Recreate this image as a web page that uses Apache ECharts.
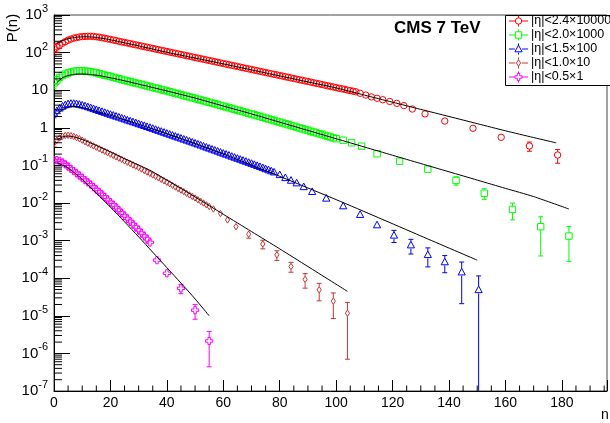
<!DOCTYPE html>
<html>
<head>
<meta charset="utf-8">
<script src="https://cdn.jsdelivr.net/npm/echarts@6/dist/echarts.min.js"></script>
<style>
html, body { margin: 0; padding: 0; background: #fff; }
#chart { width: 610px; height: 423px; }
</style>
</head>
<body>
<div id="chart"></div>
<script>
// Charged-particle multiplicity distributions P(n), CMS 7 TeV.
// Each |eta| window is plotted scaled by the factor given in its legend entry.

// ---- |eta| < 2.4  (x 10000) ----
const eta24Dense = [ // n = 0, 1, 2, ...
  126,141,158,178,195,214,229,243,251,260,
  266,269,272,272,269,263,257,248,240,232,
  224,216,208,200,193,186,179.5,173,167,161,
  155,149,144,139,134,129,124,120,115,111,
  107,103,99.5,96.0,92.5,89.1,85.9,82.8,79.8,76.9,
  74.1,71.4,68.9,66.4,64.0,61.7,59.4,57.3,55.2,53.2,
  51.3,49.4,47.6,45.9,44.3,42.7,41.1,39.6,38.2,36.8,
  35.5,34.2,33.0,31.8,30.6,29.5,28.4,27.4,26.4,25.5,
  24.5,23.7,22.8,22.0,21.2,20.4,19.7,19.0,18.3,17.6,
  17.0,16.4,15.8,15.2,14.7,14.1,13.6,13.1,12.6,12.2,
  11.7,11.3,10.9,10.5,10.1,9.77,9.42,9.08
];
const eta24WideN = [108.5,110.5,112.5,114.5,116.5,119,121.5,124,127,131.5,138.5,148.5,158.5,168.5,178.5];
const eta24Wide = [8.28,7.41,6.61,6.10,5.58,5.01,4.47,3.89,3.16,2.34,1.51,0.97,0.558,0.328,0.189];
const eta24Err = {0: 40, 1: 38, 2: 30, 3: 22, 4: 14, 138.5: 0.06, 148.5: 0.06, 158.5: 0.08, 168.5: 0.09, 178.5: 0.075};
const eta24FitN = [1,3,5,8,11,14,17,20,25,30,40,50,60,70,80,90,100,110,120,130,140,150,160,170,178];
const eta24Fit = [174,209,234,257,263,257,240,219,182,151,102,71.6,50.1,34.7,24.0,16.6,11.5,7.41,4.79,3.09,2.00,1.29,0.832,0.550,0.398];

// ---- |eta| < 2.0  (x 1000) ----
const eta20Dense = [
  15.5,18.6,21.9,24.5,26.9,28.8,30.2,31.6,32.4,32.7,
  32.7,32.4,31.6,30.9,29.9,28.8,27.5,26.3,25.1,24.3,
  23.2,22.1,21.1,20.2,19.3,18.4,17.6,16.9,16.1,15.5,
  14.8,14.2,13.6,13.0,12.4,11.9,11.4,10.9,10.4,9.98,
  9.55,9.12,8.71,8.32,7.94,7.59,7.24,6.92,6.61,6.31,
  6.03,5.75,5.48,5.23,4.99,4.76,4.54,4.33,4.13,3.94,
  3.76,3.58,3.41,3.25,3.10,2.95,2.81,2.68,2.55,2.43,
  2.32,2.21,2.10,2.00,1.90,1.81,1.72,1.64,1.56,1.48,
  1.41,1.34,1.28,1.21,1.15,1.10,1.04,0.991,0.942,0.895,
  0.851,0.809,0.769,0.731,0.695,0.661,0.628,0.597,0.568,0.540,
  0.513
];
const eta20WideN = [102.5,105.5,109,114.5,122.5,132.5,142.5,152.5,162.5,172.5,182.5];
const eta20Wide = [0.468,0.398,0.324,0.204,0.129,0.0794,0.0398,0.0182,0.00676,0.00234,0.00132];
const eta20Err = {0: 4.5, 1: 4.5, 2: 4, 3: 3, 4: 2, 122.5: 0.006, 132.5: 0.013, 142.5: 0.010, 152.5: 0.0057, 162.5: 0.0032, 172.5: 0.00195, 182.5: 0.00104};
const eta20FitN = [1,3,5,7,10,13,16,20,25,30,40,50,60,70,80,90,100,110,120,130,140,150,160,170,182.5];
const eta20Fit = [15.8,21.4,24.5,26.3,26.9,26.3,24.5,21.4,17.8,14.5,9.55,6.17,3.80,2.34,1.41,0.851,0.513,0.309,0.186,0.112,0.0676,0.0407,0.0245,0.0148,0.00692];

// ---- |eta| < 1.5  (x 100) ----
const eta15Dense = [
  2.45,2.82,3.31,3.72,4.07,4.32,4.42,4.42,4.32,4.17,
  3.98,3.80,3.59,3.39,3.20,3.02,2.85,2.69,2.54,2.40,
  2.26,2.14,2.02,1.91,1.80,1.70,1.60,1.51,1.43,1.35,
  1.27,1.20,1.14,1.07,1.01,0.955,0.899,0.847,0.798,0.752,
  0.708,0.667,0.628,0.592,0.557,0.525,0.494,0.466,0.439,0.413,
  0.389,0.366,0.344,0.323,0.303,0.285,0.268,0.252,0.237,0.222,
  0.209,0.196,0.185,0.173,0.163,0.153,0.144,0.135,0.127,0.119,
  0.112,0.105,0.0984,0.0922,0.0863,0.0808,0.0757,0.0708,0.0661
];
const eta15WideN = [80,82,84,86,88.5,91.5,96.5,102.5,108.5,114.5,120.5,126.5,132.5,138.5,144.5,150.5];
const eta15Wide = [0.0562,0.0468,0.0398,0.0339,0.0269,0.0200,0.0133,0.00832,0.0049,0.0026,0.00138,0.00076,0.00042,0.00027,0.000145,0.000049];
const eta15Err = {0: 0.6, 1: 0.55, 2: 0.45, 3: 0.35, 4: 0.25, 96.5: 0.0008, 102.5: 0.0006, 108.5: 0.00045, 114.5: 0.0004, 120.5: 0.00049, 126.5: 0.00032, 132.5: 0.00022, 138.5: 0.00013, 144.5: 0.000124, 150.5: 0.000066};
const eta15FitN = [1,3,5,7,9,12,15,20,25,30,35,40,50,60,70,80,90,100,115,130,150];
const eta15Fit = [2.29,3.02,3.47,3.63,3.55,3.16,2.75,2.14,1.62,1.23,0.923,0.692,0.380,0.200,0.102,0.0513,0.0251,0.0123,0.00407,0.00133,0.000302];

// ---- |eta| < 1.0  (x 10) ----
const eta10Dense = [
  0.389,0.468,0.537,0.596,0.624,0.631,0.617,0.589,0.550,0.513,
  0.468,0.427,0.389,0.358,0.330,0.303,0.279,0.257,0.237,0.218,
  0.200,0.185,0.170,0.156,0.144,0.132,0.122,0.112,0.103,0.0951,
  0.0875,0.080,0.0731,0.0668,0.0611,0.0558,0.0511,0.0467,0.0427,0.039,
  0.0356,0.0324,0.0294,0.0267,0.0242,0.022,0.020,0.0181,0.0164,0.0149,
  0.0136,0.0122,0.0110,0.00993,0.00895,0.00807
];
const eta10WideN = [56.5,59,61.5,64.5,69,74,79,84,89,94,99,104];
const eta10Wide = [0.00692,0.00525,0.00355,0.00234,0.00148,0.000813,0.000417,0.000204,0.0000933,0.000049,0.0000245,0.0000117];
const eta10Err = {0: 0.08, 1: 0.07, 2: 0.05, 3: 0.04, 61.5: 0.0005, 64.5: 0.0004, 69: 0.00032, 74: 0.00021, 79: 0.00012, 84: 0.00006, 89: 0.000039, 94: 0.000024, 99: 0.000016, 104: 0.000011};
const eta10FitN = [1,3,5,7,10,15,20,25,30,34,40,50,60,70,80,90,104];
const eta10Fit = [0.468,0.575,0.603,0.575,0.490,0.339,0.229,0.151,0.102,0.0741,0.0407,0.0145,0.00501,0.00174,0.000603,0.000204,0.0000447];

// ---- |eta| < 0.5  (x 1) ----
const eta05Dense = [
  0.135,0.138,0.132,0.120,0.107,0.0933,0.0813,0.0708,0.0617,0.0537,
  0.0468,0.0407,0.0355,0.0309,0.0266,0.0229,0.0197,0.0170,0.0145,0.0123,
  0.0105,0.00891,0.00759,0.00646,0.00543,0.00457,0.00385,0.00324,0.00272,0.00229,
  0.00191,0.00158,0.00132,0.00110,0.000891
];
const eta05WideN = [36.5,40,45,50,55];
const eta05Wide = [0.000302,0.000135,0.0000537,0.0000141,0.00000214];
const eta05Err = {36.5: 0.00003, 40: 0.00002, 45: 0.000015, 50: 0.000006, 55: 0.0000017};
const eta05FitN = [1,3,5,8,10,15,20,25,30,35,40,45,50,55];
const eta05Fit = [0.117,0.102,0.0851,0.0575,0.0427,0.0182,0.00776,0.00316,0.00126,0.00049,0.000191,0.0000741,0.0000282,0.00001];

// Axis ticks
const xTickValues = [0, 20, 40, 60, 80, 100, 120, 140, 160, 180];
const xMinorStep = 5;
const yDecades = [-7, -6, -5, -4, -3, -2, -1, 0, 1, 2, 3];

const FONT = '"Liberation Sans", Arial, Helvetica, sans-serif';
const Y_MIN = 1e-7, Y_MAX = 1e3, X_MAX = 196;

const groups = [
  { label: '|\u03B7|<2.4\u00D710000', color: '#ff0000', marker: 'circle',   dense: eta24Dense, wideN: eta24WideN, wide: eta24Wide, err: eta24Err, fitN: eta24FitN, fit: eta24Fit },
  { label: '|\u03B7|<2.0\u00D71000',  color: '#00ff00', marker: 'square',   dense: eta20Dense, wideN: eta20WideN, wide: eta20Wide, err: eta20Err, fitN: eta20FitN, fit: eta20Fit },
  { label: '|\u03B7|<1.5\u00D7100',   color: '#0000ff', marker: 'triangle', dense: eta15Dense, wideN: eta15WideN, wide: eta15Wide, err: eta15Err, fitN: eta15FitN, fit: eta15Fit },
  { label: '|\u03B7|<1.0\u00D710',    color: '#cc3333', marker: 'diamond',  dense: eta10Dense, wideN: eta10WideN, wide: eta10Wide, err: eta10Err, fitN: eta10FitN, fit: eta10Fit },
  { label: '|\u03B7|<0.5\u00D71',     color: '#ff00ff', marker: 'cross',    dense: eta05Dense, wideN: eta05WideN, wide: eta05Wide, err: eta05Err, fitN: eta05FitN, fit: eta05Fit }
];

// Open marker shapes (ROOT-like), with the half-height used to leave a gap in error bars.
const markerHalf = { circle: 3.2, square: 3.2, triangle: 3.6, diamond: 3.2, cross: 3.6 };
function markerEl(kind, cx, cy, color) {
  const style = { fill: 'none', stroke: color, lineWidth: 1 };
  if (kind === 'circle') return { type: 'circle', shape: { cx: cx, cy: cy, r: 3.2 }, style: style };
  if (kind === 'square') return { type: 'rect', shape: { x: cx - 3.2, y: cy - 3.2, width: 6.4, height: 6.4 }, style: style };
  if (kind === 'triangle') return { type: 'polygon', shape: { points: [[cx, cy - 3.8], [cx + 3.6, cy + 2.8], [cx - 3.6, cy + 2.8]] }, style: style };
  if (kind === 'diamond') return { type: 'polygon', shape: { points: [[cx, cy - 3.2], [cx + 2.1, cy], [cx, cy + 3.2], [cx - 2.1, cy]] }, style: style };
  const a = 1.2, b = 3.6;
  return { type: 'polygon', shape: { points: [
    [cx - a, cy - b], [cx + a, cy - b], [cx + a, cy - a], [cx + b, cy - a], [cx + b, cy + a], [cx + a, cy + a],
    [cx + a, cy + b], [cx - a, cy + b], [cx - a, cy + a], [cx - b, cy + a], [cx - b, cy - a], [cx - a, cy - a]
  ] }, style: style };
}

function buildPoints(g) {
  const pts = [];
  g.dense.forEach(function (p, n) { pts.push([n, p, g.err[n] || 0]); });
  g.wideN.forEach(function (n, j) { pts.push([n, g.wide[j], g.err[n] || 0]); });
  return pts;
}

function makeRenderer(g) {
  return function (params, api) {
    const n = api.value(0), p = api.value(1), e = api.value(2);
    const c = api.coord([n, p]);
    const cs = params.coordSys;
    const h = markerHalf[g.marker];
    const ls = { stroke: g.color, lineWidth: 1 };
    const kids = [];
    if (e > 0) {
      const top = api.coord([n, p + e])[1];
      let bot, clipped = false;
      if (p - e > Y_MIN) { bot = api.coord([n, p - e])[1]; } else { bot = cs.y + cs.height; clipped = true; }
      if (top < c[1] - h) {
        kids.push({ type: 'line', shape: { x1: c[0], y1: top, x2: c[0], y2: c[1] - h }, style: ls });
        kids.push({ type: 'line', shape: { x1: c[0] - 2.5, y1: top, x2: c[0] + 2.5, y2: top }, style: ls });
      }
      if (bot > c[1] + h) {
        kids.push({ type: 'line', shape: { x1: c[0], y1: c[1] + h, x2: c[0], y2: bot }, style: ls });
        if (!clipped) kids.push({ type: 'line', shape: { x1: c[0] - 2.5, y1: bot, x2: c[0] + 2.5, y2: bot }, style: ls });
      }
    }
    kids.push(markerEl(g.marker, c[0], c[1], g.color));
    return { type: 'group', children: kids };
  };
}

// Minor ticks: 2..9 within each decade on y, every 5 on x.
const yMinor = [];
yDecades.slice(0, -1).forEach(function (d) {
  for (let k = 2; k <= 9; k++) yMinor.push([0, k * Math.pow(10, d)]);
});
const xMinor = [];
for (let v = xMinorStep; v < X_MAX; v += xMinorStep) {
  if (xTickValues.indexOf(v) < 0) xMinor.push([v, Y_MIN]);
}

const series = [];
groups.forEach(function (g) {
  series.push({
    type: 'custom', name: g.label, data: buildPoints(g), encode: { x: 0, y: 1 },
    renderItem: makeRenderer(g), clip: true, silent: true, animation: false, z: 3
  });
});
groups.forEach(function (g) {
  series.push({
    type: 'line', data: g.fitN.map(function (n, i) { return [n, g.fit[i]]; }),
    showSymbol: false, smooth: 0.25, lineStyle: { color: '#000', width: 1 },
    silent: true, animation: false, z: 4
  });
});
series.push({
  type: 'custom', data: yMinor, encode: { x: 0, y: 1 }, clip: false, silent: true, animation: false, z: 5,
  renderItem: function (params, api) {
    const y = api.coord([0, api.value(1)])[1];
    const x0 = params.coordSys.x;
    return { type: 'line', shape: { x1: x0, y1: y, x2: x0 + 8, y2: y }, style: { stroke: '#000', lineWidth: 1 } };
  }
});
series.push({
  type: 'custom', data: xMinor, encode: { x: 0, y: 1 }, clip: false, silent: true, animation: false, z: 5,
  renderItem: function (params, api) {
    const x = api.coord([api.value(0), Y_MIN])[0];
    const y0 = params.coordSys.y + params.coordSys.height;
    return { type: 'line', shape: { x1: x, y1: y0, x2: x, y2: y0 - 5.5 }, style: { stroke: '#000', lineWidth: 1 } };
  }
});

// Decade labels on the y axis, placed through the axis scale.
function decadeLabel(e) {
  if (e === 0) return '{b|1}';
  if (e === 1) return '{b|10}';
  return '{b|10}{e|' + e + '}';
}

// Legend drawn as a ROOT-style box
const legendItems = [];
const LX = 505.5, LY = 15.5;
legendItems.push({ type: 'rect', shape: { x: LX, y: LY, width: 110, height: 70 }, style: { fill: '#fff', stroke: '#000', lineWidth: 1 } });
groups.forEach(function (g, i) {
  const y = 21 + i * 14, cx = 518.5, h = markerHalf[g.marker];
  const ls = { stroke: g.color, lineWidth: 1 };
  legendItems.push({ type: 'line', shape: { x1: 509, y1: y, x2: cx - h, y2: y }, style: ls });
  legendItems.push({ type: 'line', shape: { x1: cx + h, y1: y, x2: 528, y2: y }, style: ls });
  legendItems.push({ type: 'line', shape: { x1: cx, y1: y - 5.5, x2: cx, y2: y - h }, style: ls });
  legendItems.push({ type: 'line', shape: { x1: cx, y1: y + h, x2: cx, y2: y + 5.5 }, style: ls });
  legendItems.push(markerEl(g.marker, cx, y, g.color));
  legendItems.push({ type: 'text', x: 531, y: y, style: { text: g.label, font: '12.5px ' + FONT, fill: '#000', verticalAlign: 'middle' } });
});

const chart = echarts.init(document.getElementById('chart'), null, { renderer: 'canvas' });
chart.setOption({
  animation: false,
  backgroundColor: '#fff',
  grid: { left: 54, right: 2, top: 15, bottom: 32, show: true, borderColor: '#444', borderWidth: 1, backgroundColor: 'transparent' },
  xAxis: {
    type: 'value', min: 0, max: X_MAX, interval: 20,
    axisLine: { lineStyle: { color: '#000', width: 1 } },
    axisTick: { inside: true, length: 11, lineStyle: { color: '#000' } },
    axisLabel: {
      fontSize: 14, fontFamily: FONT, color: '#000', margin: 5,
      formatter: function (v) { return xTickValues.indexOf(v) >= 0 ? String(v) : ''; }
    },
    splitLine: { show: false }
  },
  yAxis: {
    type: 'log', logBase: 10, min: Y_MIN, max: Y_MAX, interval: 1,
    axisLine: { lineStyle: { color: '#000', width: 1 } },
    axisTick: { inside: true, length: 16, interval: 0, lineStyle: { color: '#000' } },
    axisLabel: {
      color: '#000', margin: 6, interval: 0, hideOverlap: false, showMinLabel: true, showMaxLabel: true,
      formatter: function (v) { return decadeLabel(Math.round(Math.log10(v))); },
      rich: {
        b: { fontSize: 15, fontFamily: FONT, color: '#000' },
        e: { fontSize: 11, fontFamily: FONT, color: '#000', padding: [0, 0, 12, 0] }
      }
    },
    splitLine: { show: false }
  },
  series: series,
  graphic: [
    { type: 'group', z: 100, children: legendItems },
    { type: 'text', x: 394, y: 28, z: 100, style: { text: 'CMS 7 TeV', font: 'bold 17px ' + FONT, fill: '#000', verticalAlign: 'middle' } },
    { type: 'text', x: 13, y: 28, rotation: Math.PI / 2, z: 100, style: { text: 'P(n)', font: '15px ' + FONT, fill: '#000', align: 'center', verticalAlign: 'middle' } },
    { type: 'text', x: 605, y: 415, z: 100, style: { text: 'n', font: '14px ' + FONT, fill: '#000', align: 'center', verticalAlign: 'middle' } }
  ]
});
</script>
</body>
</html>
